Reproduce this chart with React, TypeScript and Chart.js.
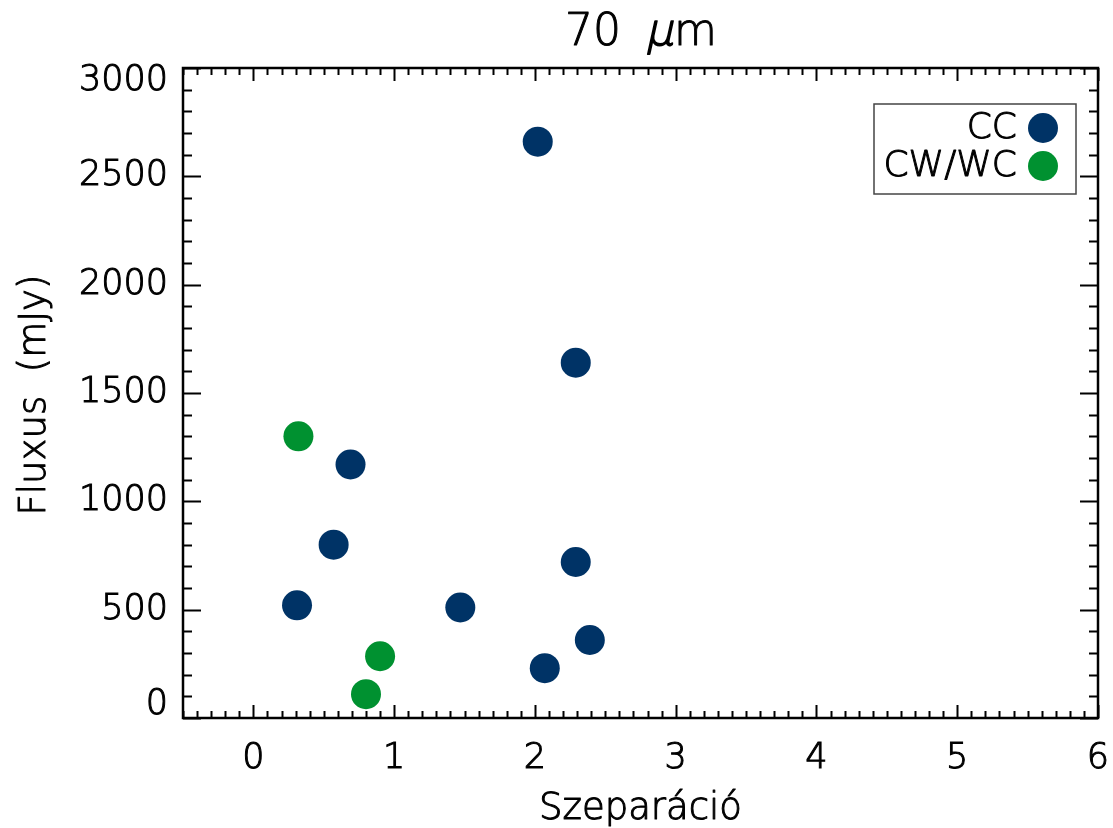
import React, { useEffect, useRef } from "react";
import { Chart, registerables } from "chart.js";

Chart.register(...registerables);

const titleNumber = "70";
const titleUnitGreek = "μ";
const titleUnitRest = "m";
const xTitle = "Szeparáció";
const yTitle = "Fluxus  (mJy)";
const seriesLabels = ["CC", "CW/WC"];
const seriesColors = ["#003366", "#009130"];

const ccX = [2.02, 2.29, 0.69, 0.57, 2.29, 0.31, 1.47, 2.39, 2.07];
const ccY = [2660, 1640, 1170, 800, 720, 520, 510, 360, 230];
const cwX = [0.32, 0.9, 0.8];
const cwY = [1300, 285, 110];

const xTickValues = [0, 1, 2, 3, 4, 5, 6];
const yTickValues = [0, 500, 1000, 1500, 2000, 2500, 3000];
const xRange = [-0.5, 6];
const yRange = [0, 3000];
const xMinorStep = 0.1;
const yMinorStep = 100;

const FONT = "'DejaVu Sans', 'Liberation Sans', sans-serif";
const WEIGHT = 200;
const STROKE = 1;

function strokedText(ctx: any, text: string, x: number, y: number) {
  ctx.fillText(text, x, y);
  ctx.strokeText(text, x, y);
}

const frameTicksPlugin = {
  id: "frameTicks",
  afterDatasetsDraw(chart: any) {
    const { ctx, chartArea } = chart;
    const { left, right, top, bottom } = chartArea;
    const xs = chart.scales.x;
    const ys = chart.scales.y;
    ctx.save();
    ctx.strokeStyle = "#000";
    ctx.lineWidth = 2;
    ctx.beginPath();
    const kx0 = Math.ceil(xRange[0] / xMinorStep - 1e-9);
    const kx1 = Math.floor(xRange[1] / xMinorStep + 1e-9);
    for (let k = kx0; k <= kx1; k++) {
      const v = k * xMinorStep;
      const major = k % 10 === 0;
      const len = major ? 13 : 7;
      const px = Math.round(xs.getPixelForValue(v)) + 0.5;
      ctx.moveTo(px, bottom);
      ctx.lineTo(px, bottom - len);
      ctx.moveTo(px, top);
      ctx.lineTo(px, top + len);
    }
    const ky0 = Math.ceil(yRange[0] / yMinorStep - 1e-9);
    const ky1 = Math.floor(yRange[1] / yMinorStep + 1e-9);
    for (let k = ky0; k <= ky1; k++) {
      const v = k * yMinorStep;
      const major = k % 5 === 0;
      const len = major ? 18 : 9;
      const py = Math.round(ys.getPixelForValue(v)) + 0.5;
      ctx.moveTo(left, py);
      ctx.lineTo(left + len, py);
      ctx.moveTo(right, py);
      ctx.lineTo(right - len, py);
    }
    ctx.stroke();
    ctx.lineWidth = 2.5;
    ctx.strokeRect(left, top, right - left, bottom - top);
    ctx.restore();
  },
};

const titlesPlugin = {
  id: "titles",
  afterDraw(chart: any) {
    const { ctx, chartArea } = chart;
    const cx = (chartArea.left + chartArea.right) / 2;
    ctx.save();
    ctx.fillStyle = "#000";
    ctx.strokeStyle = "#000";
    ctx.lineWidth = STROKE;
    ctx.lineJoin = "round";
    ctx.textBaseline = "alphabetic";
    ctx.textAlign = "left";

    // main title: "70 μm" with slanted mu
    const fNorm = `${WEIGHT} 44px ${FONT}`;
    ctx.font = fNorm;
    const w1 = ctx.measureText(titleNumber).width;
    const gap = 24;
    const w2 = ctx.measureText(titleUnitGreek).width;
    const w3 = ctx.measureText(titleUnitRest).width;
    const total = w1 + gap + w2 + w3;
    let x = cx - total / 2;
    const by = 45;
    strokedText(ctx, titleNumber, x, by);
    x += w1 + gap;
    ctx.save();
    ctx.translate(x, by);
    ctx.transform(1, 0, -0.22, 1, 0, 0);
    ctx.lineWidth = STROKE + 0.6;
    strokedText(ctx, titleUnitGreek, 0, 0);
    ctx.restore();
    x += w2 + 1;
    strokedText(ctx, titleUnitRest, x, by);

    // x axis title
    ctx.font = `${WEIGHT} 37px ${FONT}`;
    ctx.textAlign = "center";
    strokedText(ctx, xTitle, cx, 819);

    // y axis title
    ctx.translate(45, (chartArea.top + chartArea.bottom) / 2 + 2);
    ctx.rotate(-Math.PI / 2);
    strokedText(ctx, yTitle, 0, 0);
    ctx.restore();
  },
};

const legendBoxPlugin = {
  id: "legendBox",
  afterDraw(chart: any) {
    const { ctx, chartArea } = chart;
    const boxLeft = chartArea.right - 224;
    const boxTop = chartArea.top + 36;
    const boxW = 202;
    const boxH = 90;
    ctx.save();
    ctx.strokeStyle = "#444";
    ctx.lineWidth = 1.5;
    ctx.strokeRect(boxLeft, boxTop, boxW, boxH);
    ctx.font = `${WEIGHT} 36px ${FONT}`;
    ctx.textAlign = "right";
    ctx.textBaseline = "middle";
    ctx.lineWidth = STROKE;
    ctx.lineJoin = "round";
    chart.data.datasets.forEach((ds: any, i: number) => {
      const cy = boxTop + 24 + i * 38;
      ctx.fillStyle = "#000";
      ctx.strokeStyle = "#000";
      strokedText(ctx, ds.label, boxLeft + 143, cy + 1);
      ctx.beginPath();
      ctx.fillStyle = ds.backgroundColor;
      ctx.arc(boxLeft + 169, cy, 15, 0, Math.PI * 2);
      ctx.fill();
    });
    ctx.restore();
  },
};

export default function App() {
  const canvasRef = useRef<HTMLCanvasElement | null>(null);

  useEffect(() => {
    if (!canvasRef.current) return;
    const chart = new Chart(canvasRef.current, {
      type: "scatter",
      data: {
        datasets: [
          {
            label: seriesLabels[0],
            data: ccX.map((x, i) => ({ x, y: ccY[i] })),
            backgroundColor: seriesColors[0],
            borderColor: seriesColors[0],
            pointRadius: 15,
            pointHoverRadius: 15,
            borderWidth: 0,
          },
          {
            label: seriesLabels[1],
            data: cwX.map((x, i) => ({ x, y: cwY[i] })),
            backgroundColor: seriesColors[1],
            borderColor: seriesColors[1],
            pointRadius: 15,
            pointHoverRadius: 15,
            borderWidth: 0,
          },
        ],
      },
      options: {
        animation: false,
        responsive: false,
        devicePixelRatio: 1,
        layout: { padding: { left: 0, right: 14, top: 68, bottom: 0 } },
        plugins: {
          legend: { display: false },
          tooltip: { enabled: false },
          title: { display: false },
        },
        scales: {
          x: {
            type: "linear",
            min: xRange[0],
            max: xRange[1],
            afterBuildTicks: (axis: any) => {
              axis.ticks = xTickValues.map((v) => ({ value: v }));
            },
            afterFit: (axis: any) => {
              axis.height = 110;
              axis.paddingLeft = 0;
              axis.paddingRight = 0;
            },
            grid: { display: false, drawTicks: false },
            border: { display: false },
            ticks: {
              color: "#000",
              textStrokeColor: "#000",
              textStrokeWidth: STROKE,
              padding: 20,
              maxRotation: 0,
              autoSkip: false,
              font: { family: FONT, size: 35, weight: WEIGHT, lineHeight: 1.2 },
              callback: (v: any) => String(v),
            },
            title: { display: false },
          },
          y: {
            type: "linear",
            min: yRange[0],
            max: yRange[1],
            afterBuildTicks: (axis: any) => {
              axis.ticks = yTickValues.map((v) => ({ value: v }));
            },
            afterFit: (axis: any) => {
              axis.width = 183;
              axis.paddingTop = 0;
              axis.paddingBottom = 0;
            },
            grid: { display: false, drawTicks: false },
            border: { display: false },
            ticks: {
              color: "#000",
              textStrokeColor: "#000",
              textStrokeWidth: STROKE,
              padding: 15,
              autoSkip: false,
              font: { family: FONT, size: 35, weight: WEIGHT, lineHeight: "26px" },
              callback: (v: any, index: number, ticks: any[]) => {
                const s = String(v);
                if (index === 0) return [s, ""];
                if (index === ticks.length - 1) return ["", s];
                return s;
              },
            },
            title: { display: false },
          },
        },
      },
      plugins: [frameTicksPlugin, titlesPlugin, legendBoxPlugin],
    } as any);
    return () => chart.destroy();
  }, []);

  return (
    <div style={{ position: "fixed", left: 0, top: 0, width: 1113, height: 828, background: "#fff" }}>
      <canvas ref={canvasRef} width={1113} height={828} style={{ width: 1113, height: 828, display: "block" }} />
    </div>
  );
}
